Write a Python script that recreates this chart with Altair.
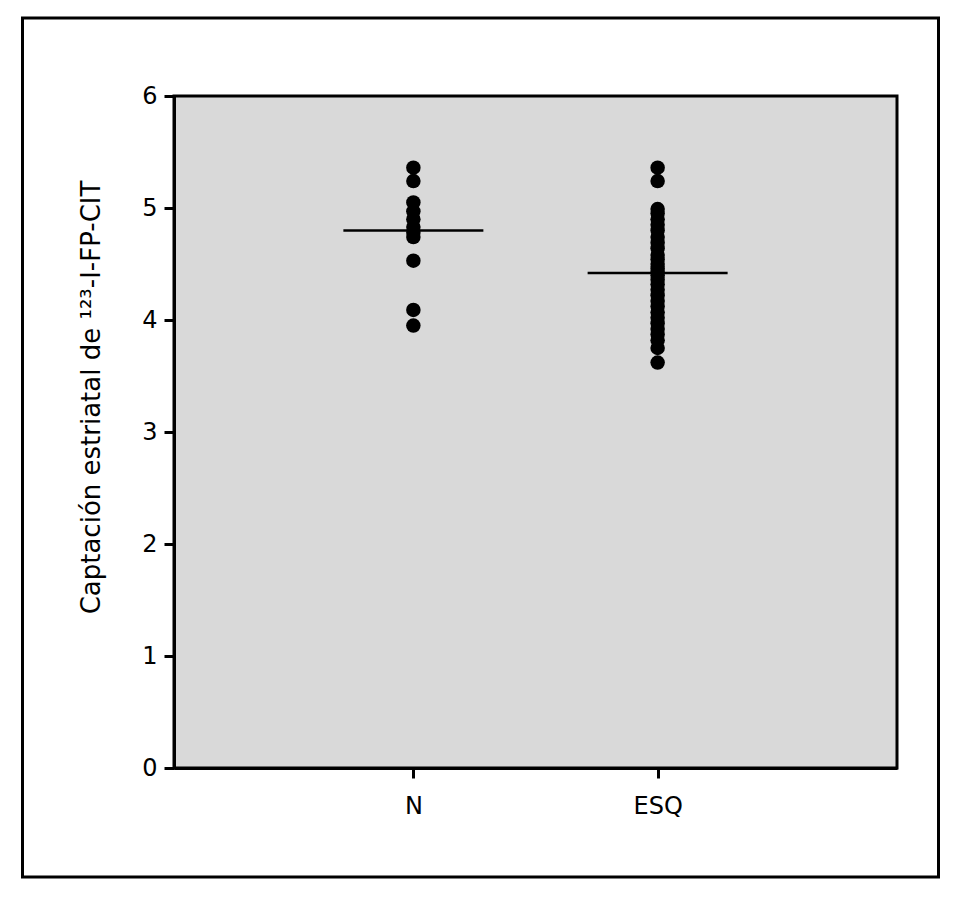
import altair as alt
import pandas as pd

groups = ["N", "ESQ"]
n_values = [5.36, 5.24, 5.05, 4.97, 4.90, 4.83, 4.78, 4.74, 4.53, 4.09, 3.95]
esq_values = [5.36, 5.24, 4.99, 4.95, 4.90, 4.85, 4.80, 4.74, 4.69, 4.64, 4.58,
              4.54, 4.50, 4.46, 4.43, 4.40, 4.36, 4.32, 4.27, 4.22, 4.17, 4.12,
              4.07, 4.02, 3.97, 3.92, 3.87, 3.82, 3.75, 3.62]
mean_values = [4.80, 4.42]
y_ticks = [0, 1, 2, 3, 4, 5, 6]

points = pd.DataFrame(
    {"grupo": ["N"] * len(n_values) + ["ESQ"] * len(esq_values),
     "valor": n_values + esq_values}
)
means = pd.DataFrame({"grupo": groups, "media": mean_values})

FONT = "DejaVu Sans"
W, H = 723, 672


def x_enc(field):
    return alt.X(
        field,
        sort=groups,
        scale=alt.Scale(type="point", padding=0.98),
        axis=alt.Axis(
            title=None, labelAngle=0, labelFontSize=24, labelFont=FONT,
            labelColor="black", tickSize=10, tickWidth=3, tickColor="black",
            domainWidth=3, domainColor="black", labelPadding=16,
        ),
    )


def y_enc(field):
    return alt.Y(
        field,
        scale=alt.Scale(domain=[0, 6], nice=False),
        axis=alt.Axis(
            values=y_ticks, format="d",
            title="Captación estriatal de ¹²³-I-FP-CIT",
            titleFont=FONT, titleFontSize=26, titleFontWeight="normal",
            titleColor="black", titleX=-75, titleY=301, titleAngle=270,
            titleBaseline="alphabetic", titleAlign="center",
            labelFontSize=24, labelFont=FONT, labelColor="black",
            tickSize=10, tickWidth=3, tickColor="black", labelPadding=7,
            domainWidth=3, domainColor="black", grid=False,
        ),
    )


dots = alt.Chart(points).mark_circle(size=210, color="black", opacity=1).encode(
    x=x_enc("grupo:N"),
    y=y_enc("valor:Q"),
)

mean_lines = alt.Chart(means).mark_tick(
    orient="horizontal", size=140, thickness=2.5, color="black", opacity=1
).encode(
    x=x_enc("grupo:N"),
    y=y_enc("media:Q"),
)

frame = alt.Chart(alt.Data(values=[{}])).mark_rect(
    fill=None, stroke="black", strokeWidth=3, clip=False
).encode(
    x=alt.value(-151.5), x2=alt.value(764.5),
    y=alt.value(-78), y2=alt.value(781),
)

chart = alt.layer(dots, mean_lines, frame).properties(
    width=W, height=H,
    autosize=alt.AutoSizeParams(type="none"),
    padding={"left": 166, "top": 88, "right": 45, "bottom": 116},
    background="white",
).configure_view(
    fill="#d9d9d9", stroke="black", strokeWidth=3
).configure_axis(
    grid=False, labelFontSize=24, titleFontSize=26, labelFont=FONT,
    titleFont=FONT, labelColor="black", titleColor="black",
    titleFontWeight="normal",
)

chart.save("out.html", embed_options={"renderer": "svg", "actions": False})
